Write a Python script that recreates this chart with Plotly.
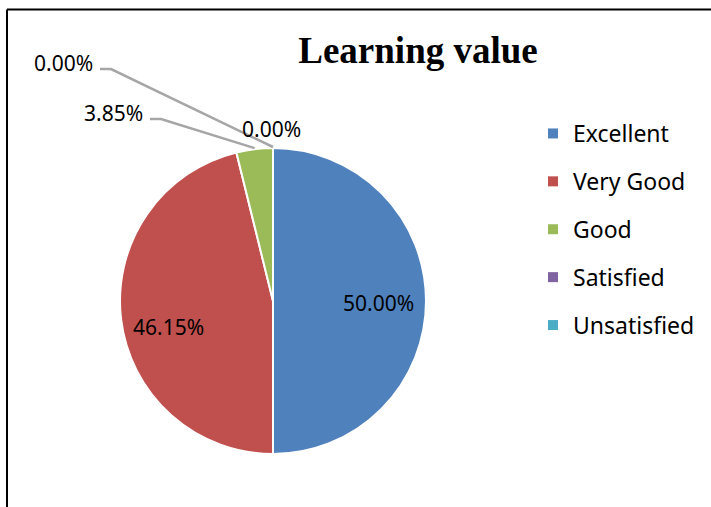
import math
import plotly.graph_objects as go

# ---- data ----
categories = ["Excellent", "Very Good", "Good", "Satisfied", "Unsatisfied"]
values = [13, 12, 1, 0, 0]
title_text = "Learning value"

# ---- styles ----
colors = ["#4F81BD", "#C0504D", "#9BBB59", "#8064A2", "#4BACC6"]
W, H = 711, 507
CX, CY, R = 273, 301, 153  # pie centre / radius in pixels
FONT = "Noto Sans"
LABEL_SIZE = 21

total = sum(values)

fig = go.Figure()

# pie
fig.add_trace(go.Pie(
    labels=categories,
    values=values,
    sort=False,
    direction="clockwise",
    rotation=0,
    marker=dict(colors=colors, line=dict(color="white", width=2)),
    textinfo="none",
    domain=dict(x=[(CX - R) / W, (CX + R) / W], y=[1 - (CY + R) / H, 1 - (CY - R) / H]),
    showlegend=False,
    hoverinfo="label+percent",
))

# legend entries (one per category)
for cat, col in zip(categories, colors):
    fig.add_trace(go.Scatter(
        x=[None], y=[None], mode="markers", name=cat, legendgroup=cat,
        marker=dict(symbol="square", size=10, color=col),
        hoverinfo="skip",
    ))

def pie_point(frac, r):
    th = 2 * math.pi * frac
    return CX + r * math.sin(th), CY - r * math.cos(th)

cum = 0
mids = []
for v in values:
    mids.append((cum + v / 2) / total)
    cum += v

annotations = []
shapes = []
# big slices: labels inside, placed along the slice's mid-angle
for i, v in enumerate(values):
    if v / total > 0.1:
        lx, ly = pie_point(mids[i], 0.69 * R)
        annotations.append(dict(
            x=lx, y=ly + (13 if ly > CY + 5 else 2), xref="x", yref="y",
            text=f"{100 * v / total:.2f}%", showarrow=False,
            font=dict(family=FONT, size=LABEL_SIZE, color="black"),
            xanchor="center", yanchor="middle",
        ))

# small-slice labels with leader lines (text centre, leader?)
placements = {2: (113, 113, True), 3: (63, 63, True), 4: (271, 129, False)}
for i, v in enumerate(values):
    if v / total > 0.1:
        continue
    tx, ty, leader = placements[i]
    annotations.append(dict(
        x=tx, y=ty, xref="x", yref="y", text=f"{100 * v / total:.2f}%",
        showarrow=False, font=dict(family=FONT, size=LABEL_SIZE, color="black"),
        xanchor="center", yanchor="middle",
    ))
    if leader:
        px, py = pie_point(mids[i], R)
        sx = tx + 37
        sy = ty + 6
        shapes.append(dict(
            type="path", xref="x", yref="y",
            path=f"M{sx},{sy} L{sx + 11},{sy} L{px:.1f},{py - 1:.1f}",
            line=dict(color="#A6A6A6", width=2.5),
        ))

# outer frame (top and left edge visible)
shapes.append(dict(type="line", xref="x", yref="y", x0=7, y0=9.5, x1=W, y1=9.5,
                   line=dict(color="black", width=2)))
shapes.append(dict(type="line", xref="x", yref="y", x0=7, y0=9.5, x1=7, y1=H,
                   line=dict(color="black", width=2)))

fig.update_layout(
    width=W, height=H,
    margin=dict(l=0, r=0, t=0, b=0),
    paper_bgcolor="white", plot_bgcolor="rgba(0,0,0,0)",
    xaxis=dict(range=[0, W], visible=False, fixedrange=True),
    yaxis=dict(range=[H, 0], visible=False, fixedrange=True),
    title=dict(text=f"<b>{title_text}</b>", x=418 / W, xanchor="center",
               y=1 - 50 / H, yanchor="middle",
               font=dict(family="Liberation Serif", size=37, color="black")),
    legend=dict(x=533 / W, xanchor="left", y=1 - 112 / H, yanchor="top",
                font=dict(family=FONT, size=23, color="black"),
                tracegroupgap=15, bgcolor="rgba(0,0,0,0)"),
    annotations=annotations,
    shapes=shapes,
    showlegend=True,
)

fig.write_html("out.html", config={"displayModeBar": False},
               post_script="document.body.style.margin='0';")
